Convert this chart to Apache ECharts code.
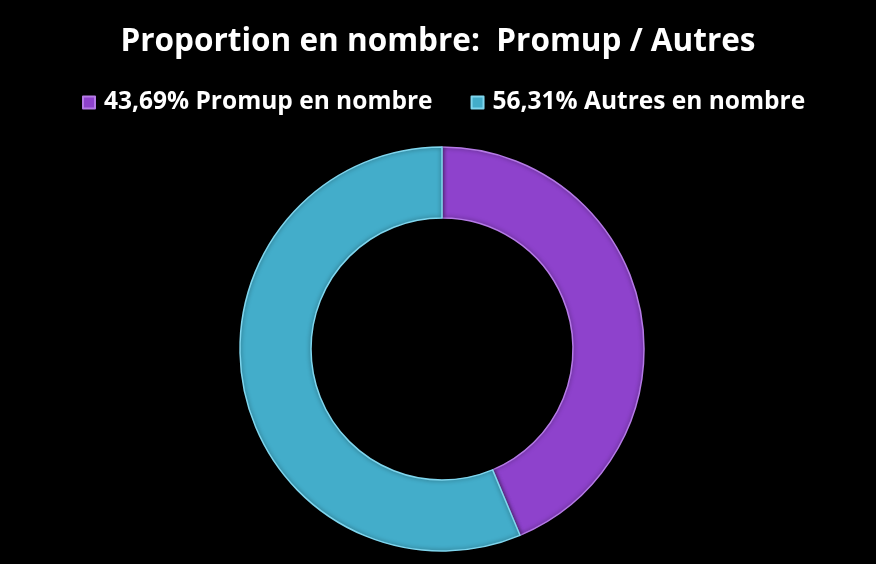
<!DOCTYPE html>
<html><head><meta charset="utf-8">
<script src="https://cdn.jsdelivr.net/npm/echarts@6/dist/echarts.min.js"></script>
<style>html,body{margin:0;padding:0;background:#000;}#c{width:876px;height:564px;}</style>
</head><body><div id="c"></div>
<script>
const categories = ['43,69% Promup en nombre', '56,31% Autres en nombre'];
const values = [43.69, 56.31];
const colors = ['#8E42CC', '#43ADCA'];
const edge = ['#B57AE6', '#7FD6EE'];

const chart = echarts.init(document.getElementById('c'));
chart.setOption({
  backgroundColor: '#000',
  animation: false,
  title: {
    text: 'Proportion en nombre:  Promup / Autres',
    left: 'center', top: 21,
    textStyle: { color: '#fff', fontFamily: 'Open Sans', fontWeight: 'bold', fontSize: 31.5 }
  },
  legend: {
    top: 85, left: 77,
    icon: 'rect', itemWidth: 12, itemHeight: 12, itemGap: 38,
    textStyle: { color: '#fff', fontFamily: 'Open Sans', fontWeight: 'bold', fontSize: 24.5, padding: [0, 0, 0, 4] },
    data: categories
  },
  series: [{
    type: 'pie',
    center: [442, 349],
    radius: [131, 202],
    startAngle: 90,
    clockwise: true,
    label: { show: false },
    labelLine: { show: false },
    emphasis: { disabled: true },
    data: categories.map((c, i) => ({
      name: c, value: values[i],
      itemStyle: { color: colors[i], borderColor: edge[i], borderWidth: 1.5,
        shadowColor: 'rgba(0,0,0,0.5)', shadowBlur: 4 }
    }))
  }]
});
</script></body></html>
